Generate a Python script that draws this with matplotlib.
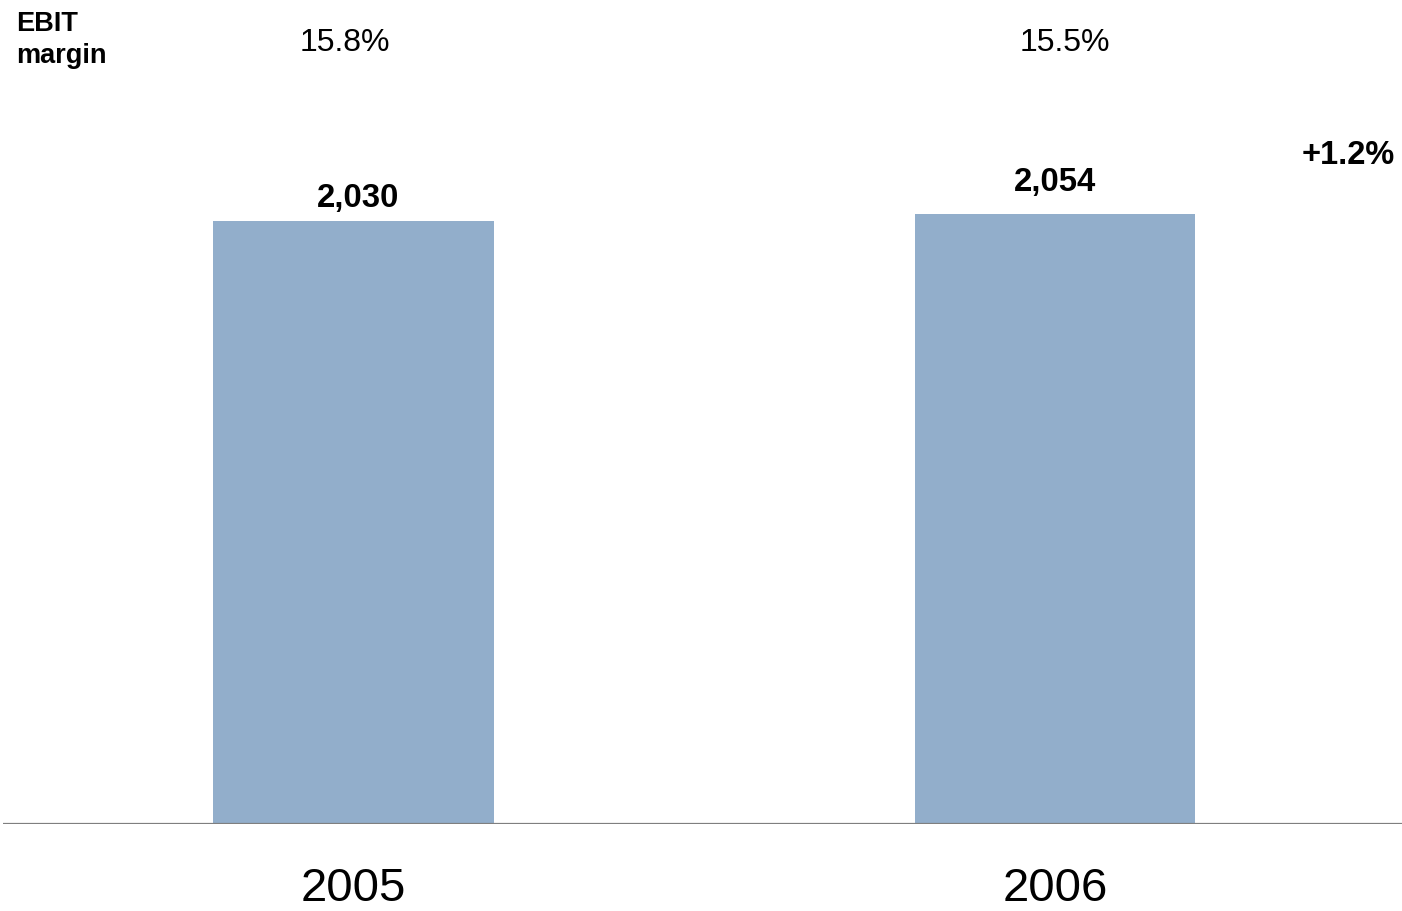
import matplotlib
matplotlib.use('Agg')
import matplotlib.pyplot as plt

plt.rcParams['font.family'] = ['Liberation Sans', 'DejaVu Sans']

years = ['2005', '2006']
ebit = [2030, 2054]
margins = ['15.8%', '15.5%']
growth = '+1.2%'

W, H = 1402, 911
BAR_COLOR = '#92aecb'

fig = plt.figure(figsize=(W / 100, H / 100), dpi=100)
fig.patch.set_facecolor('white')

# axes run from the baseline up to the top edge of the figure
base_y = 824
ax = fig.add_axes([3 / W, (H - base_y) / H, (W - 3) / W, base_y / H])
ax.set_xlim(-0.4996, 1.4947)
ax.set_ylim(0, 2030 * base_y / 603)
ax.axis('off')

x = list(range(len(years)))
ax.bar(x, ebit, width=0.40, color=BAR_COLOR, zorder=2)
ax.axhline(0, color='#7f7f7f', lw=1.6, zorder=3)

# value labels above the bars
label_offsets = [16.5, 22.5]
for xi, v, off in zip(x, ebit, label_offsets):
    ax.annotate(f'{v:,}', (xi, v), xytext=(3 if xi == 0 else 0, off),
                textcoords='offset points', ha='center', va='center',
                fontsize=23.8, fontweight='bold')

# year labels under the baseline
for xi, yr in zip(x, years):
    ax.annotate(yr, (xi, 0), xytext=(0, -47), textcoords='offset points',
                ha='center', va='center', fontsize=34)

# EBIT margin row along the top
fig.text(16 / W, 1 - 11 / H, 'EBIT\nmargin', ha='left', va='top',
         fontsize=19.5, fontweight='bold', linespacing=1.3)
for xpix, m in zip([345, 1065], margins):
    fig.text(xpix / W, 1 - 43 / H, m, ha='center', va='center', fontsize=23)

fig.text(1348 / W, 1 - 156 / H, growth, ha='center', va='center',
         fontsize=23.5, fontweight='bold')

fig.savefig('out.png', dpi=100, facecolor='white')
